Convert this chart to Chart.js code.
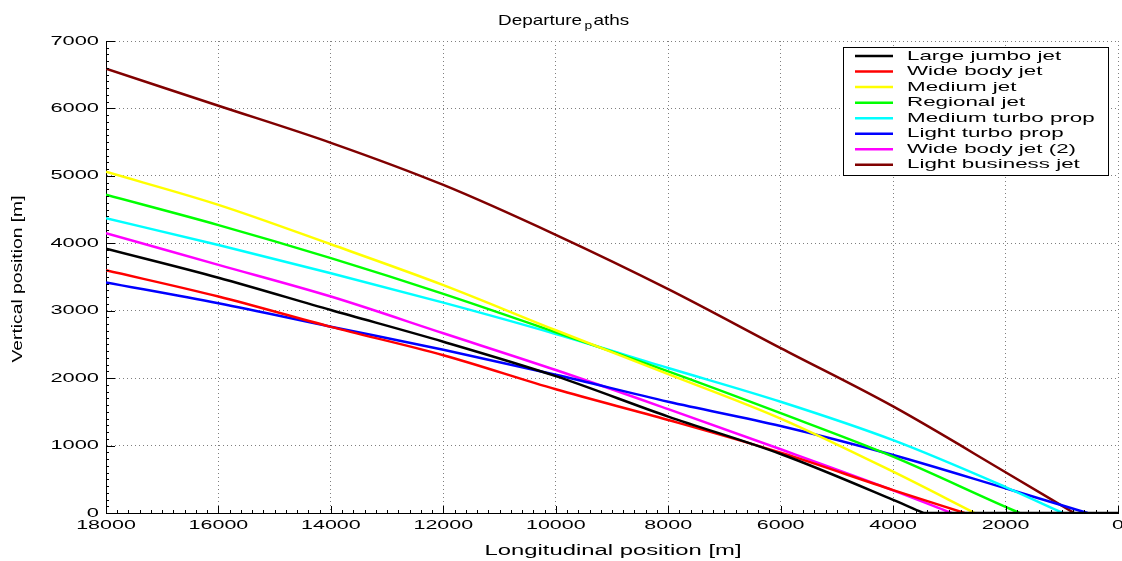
<!DOCTYPE html>
<html>
<head>
<meta charset="utf-8">
<script src="https://cdn.jsdelivr.net/npm/chart.js@4.4.1/dist/chart.umd.min.js"></script>
<style>
  html, body { margin: 0; padding: 0; background: #fff; }
</style>
</head>
<body>
<canvas id="departureChart" width="1122" height="561"></canvas>
<script>
// departure paths, x = longitudinal position [m] (axis reversed), y = height [m]
const xStations = [18000, 16000, 14000, 12000, 10000, 8000, 6000, 4000, 2000, 1000];

const largeJumbo    = [3920, 3490, 3010, 2540, 2030, 1430, 875, 195, null, null];
const wideBody      = [3600, 3210, 2760, 2340, 1835, 1380, 895, 340, null, null];
const mediumJet     = [5060, 4570, 3985, 3380, 2710, 2060, 1400, 612, null, null];
const regionalJet   = [4720, 4270, 3780, 3250, 2680, 2100, 1480, 835, 90, null];
const mediumTurbo   = [4370, 3975, 3555, 3120, 2655, 2150, 1650, 1080, 385, null];
const lightTurbo    = [3420, 3110, 2763, 2420, 2050, 1650, 1290, 860, 366, 115];
const wideBody2     = [4150, 3680, 3210, 2665, 2120, 1540, 945, 336, null, null];
const lightBusiness = [6590, 6040, 5490, 4865, 4125, 3320, 2445, 1580, 605, null];

// where each path reaches the ground, same order as the series
const groundX = [3460, 2730, 2550, 1750, 980, 540, 2960, 780];
// only the jumbo path keeps running along the runway to 0
const runwayEnd = 0;

const seriesNames = ['Large jumbo jet', 'Wide body jet', 'Medium jet', 'Regional jet',
  'Medium turbo prop', 'Light turbo prop', 'Wide body jet (2)', 'Light business jet'];
const seriesValues = [largeJumbo, wideBody, mediumJet, regionalJet,
  mediumTurbo, lightTurbo, wideBody2, lightBusiness];
const seriesColors = ['#000000', '#ff0000', '#ffff00', '#00ff00',
  '#00ffff', '#0000ff', '#ff00ff', '#800000'];

const xTicks = [18000, 16000, 14000, 12000, 10000, 8000, 6000, 4000, 2000, 0];
const yTicks = [0, 1000, 2000, 3000, 4000, 5000, 6000, 7000];

function buildPoints(values, i) {
  const pts = [];
  values.forEach((v, k) => { if (v !== null) pts.push({ x: xStations[k], y: v }); });
  pts.push({ x: groundX[i], y: 0 });
  if (i === 0) {
    // break the curve so the runway part stays a straight separate piece
    pts.push({ x: groundX[i], y: null });
    pts.push({ x: groundX[i], y: 0 });
    pts.push({ x: runwayEnd, y: 0 });
  }
  return pts;
}

const datasets = seriesNames.map((name, i) => ({
  label: name,
  data: buildPoints(seriesValues[i], i),
  borderColor: seriesColors[i],
  backgroundColor: seriesColors[i],
  borderWidth: 2.5,
  pointRadius: 0,
  cubicInterpolationMode: 'monotone',
  spanGaps: false,
  fill: false
}));

const FONT = '"Liberation Sans", Arial, sans-serif';

// draws text stretched sideways, like the exported figure
function wideText(ctx, str, x, y, size, sx, align) {
  ctx.save();
  ctx.translate(x, y);
  ctx.scale(sx, 1);
  ctx.font = size + 'px ' + FONT;
  ctx.textAlign = align;
  ctx.textBaseline = 'middle';
  ctx.fillText(str, 0, 0);
  ctx.restore();
}

const figureText = {
  id: 'figureText',
  afterDatasetsDraw(chart) {
    const ctx = chart.ctx;
    const xs = chart.scales.x, ys = chart.scales.y;
    const area = chart.chartArea;
    ctx.save();
    ctx.strokeStyle = '#000';
    ctx.fillStyle = '#000';
    ctx.lineWidth = 1;

    // inward ticks (major + minor)
    ctx.beginPath();
    for (let v = 0; v <= 7000; v += 100) {
      const y = Math.round(ys.getPixelForValue(v)) + 0.5;
      const len = v % 1000 === 0 ? 9 : 3;
      ctx.moveTo(area.left, y);
      ctx.lineTo(area.left + len, y);
    }
    for (let v = 0; v <= 18000; v += 200) {
      const x = Math.round(xs.getPixelForValue(v)) + 0.5;
      const len = v % 2000 === 0 ? 7 : 3;
      ctx.moveTo(x, area.bottom);
      ctx.lineTo(x, area.bottom - len);
    }
    ctx.stroke();

    // tick labels
    yTicks.forEach(v => wideText(ctx, String(v), area.left - 7, ys.getPixelForValue(v), 13, 1.68, 'right'));
    xTicks.forEach(v => wideText(ctx, String(v), xs.getPixelForValue(v), area.bottom + 12, 13, 1.65, 'center'));

    // axis titles
    ctx.font = '14px ' + FONT;
    const xt = 'Longitudinal position [m]';
    wideText(ctx, xt, 613, 551, 14, 257 / ctx.measureText(xt).width, 'center');

    const yt = 'Vertical position [m]';
    ctx.font = '15px ' + FONT;
    const yLen = 167 / ctx.measureText(yt).width;
    ctx.save();
    ctx.translate(18, 279);
    ctx.rotate(-Math.PI / 2);
    ctx.scale(yLen, 1);
    ctx.textAlign = 'center';
    ctx.textBaseline = 'middle';
    ctx.fillText(yt, 0, 0);
    ctx.restore();

    // title with the subscripted p
    ctx.font = '15px ' + FONT;
    const tsx = 84 / ctx.measureText('Departure').width;
    ctx.save();
    ctx.translate(498, 20);
    ctx.scale(tsx, 1);
    ctx.textAlign = 'left';
    ctx.textBaseline = 'alphabetic';
    ctx.fillText('Departure', 0, 5);
    let w = ctx.measureText('Departure').width + 2;
    ctx.font = '11px ' + FONT;
    ctx.fillText('p', w, 9);
    w += ctx.measureText('p').width + 1;
    ctx.font = '15px ' + FONT;
    ctx.fillText('aths', w, 5);
    ctx.restore();

    // legend box
    const lx = 843, ly = 47, lw = 265, lh = 128;
    ctx.fillStyle = '#fff';
    ctx.fillRect(lx, ly, lw, lh);
    ctx.strokeStyle = '#000';
    ctx.strokeRect(lx + 0.5, ly + 0.5, lw, lh);
    chart.data.datasets.forEach((ds, i) => {
      const y = 56 + i * 15.55;
      ctx.strokeStyle = ds.borderColor;
      ctx.lineWidth = 2.5;
      ctx.beginPath();
      ctx.moveTo(855, y);
      ctx.lineTo(893, y);
      ctx.stroke();
      ctx.fillStyle = '#000';
      wideText(ctx, ds.label, 907, y, 13, 1.72, 'left');
    });
    ctx.restore();
  }
};

new Chart(document.getElementById('departureChart'), {
  type: 'line',
  data: { datasets: datasets },
  options: {
    responsive: false,
    animation: false,
    layout: { padding: { left: 106, right: 4, top: 41, bottom: 48 } },
    plugins: {
      legend: { display: false },
      tooltip: { enabled: false }
    },
    scales: {
      x: {
        type: 'linear',
        reverse: true,
        min: 0,
        max: 18000,
        ticks: { display: false, stepSize: 2000 },
        grid: { color: '#7f7f7f', lineWidth: 1, drawTicks: false },
        border: { display: true, color: '#000', width: 1, dash: [1, 3] }
      },
      y: {
        min: 0,
        max: 7000,
        ticks: { display: false, stepSize: 1000 },
        grid: { color: '#7f7f7f', lineWidth: 1, drawTicks: false },
        border: { display: true, color: '#000', width: 1, dash: [1, 3] }
      }
    }
  },
  plugins: [figureText]
});
</script>
</body>
</html>
